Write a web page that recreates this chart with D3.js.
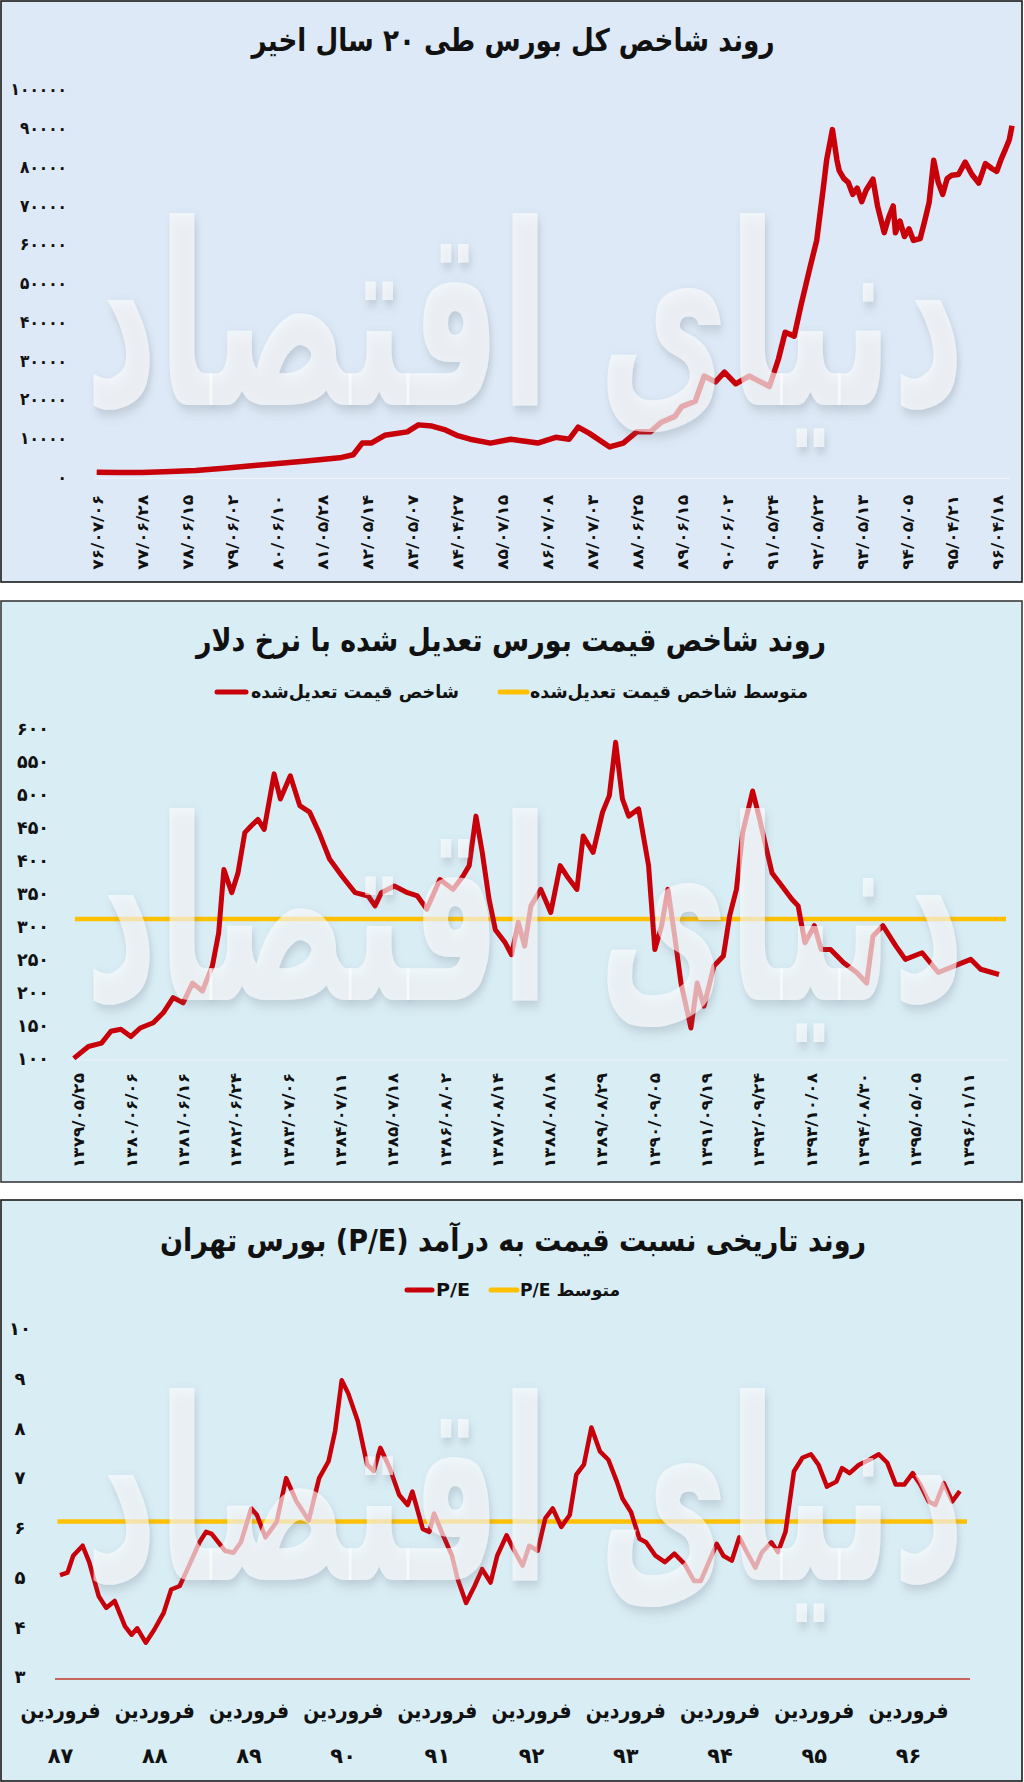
<!DOCTYPE html>
<html><head><meta charset="utf-8">
<script src="https://cdn.jsdelivr.net/npm/d3@7/dist/d3.min.js"></script>
<style>
body{margin:0;background:#fff}
svg{display:block}
text{font-family:"DejaVu Sans",sans-serif;font-weight:bold;fill:#111}
</style>
</head><body>
<svg id="c" width="1024" height="1782"></svg>
<script>
// ---------------- DATA ----------------
// Panel 1: total index (year position 76..96, value)
const indexTitle = "روند شاخص کل بورس طی ۲۰ سال اخیر";
const indexDates = ["۷۶/۰۷/۰۶","۷۷/۰۶/۲۸","۷۸/۰۶/۱۵","۷۹/۰۶/۰۲","۸۰/۰۶/۱۰","۸۱/۰۵/۲۸","۸۲/۰۵/۱۴","۸۳/۰۵/۰۷","۸۴/۰۴/۲۷","۸۵/۰۷/۱۵","۸۶/۰۷/۰۸","۸۷/۰۷/۰۳","۸۸/۰۶/۲۵","۸۹/۰۶/۱۵","۹۰/۰۶/۰۲","۹۱/۰۵/۲۴","۹۲/۰۵/۲۲","۹۳/۰۵/۱۳","۹۴/۰۵/۰۵","۹۵/۰۴/۲۱","۹۶/۰۴/۱۸"];
const indexTicks = [0,10000,20000,30000,40000,50000,60000,70000,80000,90000,100000];
const indexX = [76.0,76.5,77.0,77.5,78.2,78.9,79.5,79.9,80.6,81.4,81.7,81.9,82.1,82.4,82.9,83.15,83.45,83.75,84.0,84.3,84.75,85.2,85.8,86.2,86.5,86.7,86.95,87.4,87.7,88.0,88.3,88.55,88.85,89.0,89.3,89.5,89.75,89.95,90.2,90.5,90.75,90.95,91.15,91.3,91.5,91.65,91.85,92.0,92.15,92.22,92.35,92.45,92.5,92.6,92.7,92.8,92.9,93.0,93.1,93.25,93.35,93.5,93.6,93.7,93.75,93.85,93.95,94.05,94.15,94.3,94.4,94.5,94.6,94.7,94.8,94.9,95.0,95.15,95.3,95.45,95.6,95.75,95.9,96.0,96.1,96.2,96.28,96.34];
const indexV = [1200,1100,1100,1300,1600,2300,2900,3300,4000,4900,5700,8700,8700,10700,11600,13400,13100,12100,10700,9700,8700,9700,8700,10200,9700,12800,11200,7700,8700,11600,11600,14100,15600,18100,19500,26000,24500,27000,24000,26000,24500,23300,30400,37300,36300,44200,54000,61000,74800,81700,89600,81700,79000,77000,76000,72900,74500,71000,74000,76800,70000,63000,67000,69900,63000,66000,62000,64000,61000,61500,66000,70900,81700,76000,72900,77000,77800,78000,81200,78000,75800,80800,79500,78800,82000,84700,87000,90600];

// Panel 2: price index adjusted by dollar rate (label position, value)
const adjTitle = "روند شاخص قیمت بورس تعدیل شده با نرخ دلار";
const adjLegend = ["شاخص قیمت تعدیل‌شده","متوسط شاخص قیمت تعدیل‌شده"];
const adjDates = ["۱۳۷۹/۰۵/۲۵","۱۳۸۰/۰۶/۰۶","۱۳۸۱/۰۶/۱۶","۱۳۸۲/۰۶/۲۴","۱۳۸۳/۰۷/۰۶","۱۳۸۴/۰۷/۱۱","۱۳۸۵/۰۷/۱۸","۱۳۸۶/۰۸/۰۲","۱۳۸۷/۰۸/۱۴","۱۳۸۸/۰۸/۱۸","۱۳۸۹/۰۸/۲۹","۱۳۹۰/۰۹/۰۵","۱۳۹۱/۰۹/۱۹","۱۳۹۲/۰۹/۲۴","۱۳۹۳/۱۰/۰۸","۱۳۹۴/۰۸/۳۰","۱۳۹۵/۰۵/۰۵","۱۳۹۶/۰۱/۱۱"];
const adjTicks = [100,150,200,250,300,350,400,450,500,550,600];
const adjX = [-0.09,0.19,0.44,0.62,0.81,1.0,1.18,1.43,1.62,1.81,2.0,2.18,2.37,2.56,2.68,2.78,2.93,3.05,3.18,3.3,3.43,3.55,3.74,3.86,4.05,4.23,4.42,4.6,4.8,5.04,5.29,5.54,5.67,5.79,6.04,6.29,6.48,6.66,6.91,7.16,7.35,7.47,7.6,7.72,7.85,7.97,8.16,8.28,8.41,8.53,8.65,8.84,9.03,9.21,9.34,9.53,9.65,9.84,10.02,10.15,10.27,10.4,10.52,10.71,10.9,11.02,11.15,11.27,11.4,11.52,11.71,11.83,11.96,12.15,12.33,12.45,12.58,12.7,12.89,13.01,13.14,13.26,13.45,13.64,13.76,13.89,14.07,14.2,14.38,14.63,14.88,15.07,15.19,15.38,15.63,15.81,16.13,16.44,16.75,17.06,17.25,17.6];
const adjV = [101,119,124,142,145,134,147,155,170,193,185,215,203,241,291,387,352,382,443,453,463,448,532,494,529,484,474,443,403,377,352,347,332,352,362,352,347,327,372,357,377,393,468,413,342,296,276,258,307,271,332,357,322,393,377,357,438,413,474,499,580,494,468,479,393,266,302,357,286,215,147,215,180,241,256,317,357,443,506,468,423,382,362,342,332,276,302,266,266,246,231,215,286,302,271,251,261,231,241,251,236,228];
const adjMean = 312;

// Panel 3: P/E ratio (year 87..96.55, value)
const peTitle = "روند تاریخی نسبت قیمت به درآمد (P/E) بورس تهران";
const peLegend = ["P/E","متوسط P/E"];
const peYears = [87,88,89,90,91,92,93,94,95,96];
const peYearLabels = ["۸۷","۸۸","۸۹","۹۰","۹۱","۹۲","۹۳","۹۴","۹۵","۹۶"];
const peMonth = "فروردین";
const peTicks = [3,4,5,6,7,8,9,10];
const peX = [87.0,87.08,87.14,87.24,87.31,87.41,87.49,87.58,87.69,87.76,87.82,87.91,88.0,88.1,88.18,88.27,88.37,88.48,88.55,88.61,88.75,88.84,88.92,89.03,89.09,89.18,89.3,89.4,89.51,89.64,89.75,89.85,89.92,89.99,90.06,90.16,90.26,90.33,90.4,90.5,90.6,90.69,90.74,90.85,90.92,90.97,91.05,91.16,91.22,91.31,91.4,91.48,91.57,91.64,91.74,91.81,91.91,91.98,92.07,92.15,92.23,92.32,92.41,92.48,92.56,92.64,92.73,92.82,92.91,92.97,93.06,93.15,93.22,93.32,93.42,93.52,93.63,93.73,93.8,93.87,93.97,94.04,94.13,94.21,94.29,94.38,94.45,94.55,94.62,94.7,94.79,94.88,94.97,95.05,95.14,95.24,95.3,95.38,95.48,95.59,95.69,95.78,95.87,95.96,96.05,96.13,96.22,96.29,96.38,96.47,96.55];
const peV = [5.05,5.1,5.44,5.64,5.31,4.63,4.39,4.53,4.02,3.85,3.98,3.69,3.95,4.29,4.76,4.83,5.24,5.71,5.92,5.88,5.54,5.5,5.71,6.39,6.26,5.81,6.12,7.0,6.53,6.15,7.0,7.34,7.95,8.97,8.7,8.15,7.27,7.14,7.61,7.2,6.66,6.46,6.73,5.98,5.92,6.29,5.92,5.44,4.97,4.49,4.83,5.17,4.9,5.44,5.85,5.58,5.24,5.64,5.54,6.19,6.39,6.02,6.26,7.07,7.27,8.02,7.54,7.37,6.93,6.59,6.32,5.78,5.71,5.44,5.31,5.48,5.27,4.93,4.93,5.24,5.68,5.44,5.34,5.81,5.51,5.2,5.51,5.71,5.51,5.92,7.14,7.41,7.48,7.27,6.83,6.93,7.2,7.1,7.27,7.37,7.48,7.31,6.87,6.87,7.1,6.87,6.53,6.46,6.9,6.53,6.74];
const peMean = 6.13;

const watermark = "دنیای اقتصاد";

// ---------------- DRAW ----------------
const fa = n => String(n).replace(/\d/g, d => "۰۱۲۳۴۵۶۷۸۹"[d]);
const svg = d3.select("#c");
const RED = "#c8000a", YEL = "#ffc000";

const defs = svg.append("defs");
const f = defs.append("filter").attr("id","sh").attr("x","-10%").attr("y","-10%").attr("width","120%").attr("height","120%");
f.append("feDropShadow").attr("dx",2).attr("dy",3).attr("stdDeviation",3).attr("flood-color","#6a7480").attr("flood-opacity",0.45);

function panel(y0, y1, fill, stroke) {
  svg.append("rect").attr("x",1).attr("y",y0).attr("width",1021).attr("height",y1-y0)
    .attr("fill",fill).attr("stroke",stroke).attr("stroke-width",1.6);
}
function title(txt, cx, y, len) {
  svg.append("text").attr("x",cx).attr("y",y).attr("text-anchor","middle")
    .attr("direction","rtl").attr("font-size",31).attr("textLength",len)
    .attr("lengthAdjust","spacingAndGlyphs").text(txt);
}
function wmark(yBase) {
  const t = svg.append("text").attr("x",0).attr("y",0).attr("text-anchor","middle")
    .attr("font-size",100).attr("direction","rtl")
    .style("fill","#ffffff").style("fill-opacity",0.6).attr("filter","url(#sh)")
    .text(watermark);
  const w = t.node().getComputedTextLength();
  const fs = 100 * 880 / w;
  t.attr("font-size", fs);
  const sy = Math.min(2.2, 190 / (0.75 * fs));
  t.attr("transform", `translate(525,${yBase}) scale(1,${sy})`);
}
function legendItem(x0, x1, y, color, txt, tcx, tlen, fs) {
  svg.append("line").attr("x1",x0).attr("x2",x1).attr("y1",y).attr("y2",y)
    .attr("stroke",color).attr("stroke-width",5).attr("stroke-linecap","round");
  svg.append("text").attr("x",tcx).attr("y",y+6).attr("text-anchor","middle").attr("direction","rtl")
    .attr("font-size",fs).attr("textLength",tlen).attr("lengthAdjust","spacingAndGlyphs").text(txt);
}
function cleanAxis(g){ g.select(".domain").remove(); g.selectAll(".tick line").remove(); }

// ===== Panel 1 =====
panel(1, 582, "#dde9f6", "#1a1a1a");
title(indexTitle, 513, 51, 523);
{
  const x = d3.scaleLinear().domain([76,96]).range([96.7,996.7]);
  const y = d3.scaleLinear().domain([0,100000]).range([476.8,89.3]);
  svg.append("line").attr("x1",x(75.95)).attr("x2",x(96.3)).attr("y1",y(0)+1.5).attr("y2",y(0)+1.5)
    .attr("stroke","#eef3fa").attr("stroke-width",1.2);
  const ya = svg.append("g").attr("transform","translate(67,0)")
    .call(d3.axisLeft(y).tickValues(indexTicks).tickSize(0).tickPadding(0).tickFormat(fa));
  cleanAxis(ya);
  ya.selectAll("text").attr("font-size",17).attr("text-anchor","end")
    .each(function(d){ const s=fa(d); d3.select(this).attr("textLength", s.length*9.4).attr("lengthAdjust","spacingAndGlyphs"); });
  const xa = svg.append("g").attr("transform",`translate(0,${y(0)})`)
    .call(d3.axisBottom(x).tickValues(d3.range(76,97)).tickSize(0).tickFormat((d,i)=>indexDates[i]));
  cleanAxis(xa);
  xa.selectAll("text").attr("transform","rotate(-90)").attr("x",-18).attr("y",0).attr("dy","0.36em")
    .attr("text-anchor","end").attr("font-size",15).attr("textLength",75).attr("lengthAdjust","spacingAndGlyphs");
  const pts = indexX.map((d,i)=>[d,indexV[i]]);
  svg.append("path").datum(pts).attr("fill","none").attr("stroke",RED).attr("stroke-width",5.5)
    .attr("stroke-linejoin","round").attr("d", d3.line().x(d=>x(d[0])).y(d=>y(d[1])));
  wmark(405);
}

// ===== Panel 2 =====
panel(601, 1182, "#d9edf5", "#3a3a3a");
title(adjTitle, 511, 651, 630);
legendItem(217, 246, 692, RED, adjLegend[0], 355, 208, 18);
legendItem(500, 527, 692, YEL, adjLegend[1], 669, 278, 18);
{
  const x = d3.scaleLinear().domain([0,17]).range([78.5,967.6]);
  const y = d3.scaleLinear().domain([100,600]).range([1059,729]);
  svg.append("line").attr("x1",70).attr("x2",1008).attr("y1",y(100)+1).attr("y2",y(100)+1)
    .attr("stroke","#eaf4f9").attr("stroke-width",1.2);
  const ya = svg.append("g").attr("transform","translate(49,0)")
    .call(d3.axisLeft(y).tickValues(adjTicks).tickSize(0).tickPadding(0).tickFormat(fa));
  cleanAxis(ya);
  ya.selectAll("text").attr("font-size",18).attr("text-anchor","end")
    .attr("textLength",32).attr("lengthAdjust","spacingAndGlyphs");
  const xa = svg.append("g").attr("transform",`translate(0,${y(100)})`)
    .call(d3.axisBottom(x).tickValues(d3.range(0,18)).tickSize(0).tickFormat((d,i)=>adjDates[i]));
  cleanAxis(xa);
  xa.selectAll("text").attr("transform","rotate(-90)").attr("x",-14).attr("y",0).attr("dy","0.36em")
    .attr("text-anchor","end").attr("font-size",15).attr("textLength",95).attr("lengthAdjust","spacingAndGlyphs");
  svg.append("line").attr("x1",75).attr("x2",1006).attr("y1",y(adjMean)).attr("y2",y(adjMean))
    .attr("stroke",YEL).attr("stroke-width",4.5);
  const pts = adjX.map((d,i)=>[d,adjV[i]]);
  svg.append("path").datum(pts).attr("fill","none").attr("stroke",RED).attr("stroke-width",5)
    .attr("stroke-linejoin","round").attr("d", d3.line().x(d=>x(d[0])).y(d=>y(d[1])));
  wmark(1000);
}

// ===== Panel 3 =====
panel(1200, 1781, "#d9edf5", "#1a1a1a");
title(peTitle, 513, 1251, 706);
legendItem(407, 432, 1290, RED, peLegend[0], 453, 34, 17);
legendItem(491, 517, 1290, YEL, peLegend[1], 570, 100, 17);
{
  const x = d3.scaleLinear().domain([87,96]).range([60,908]);
  const y = d3.scaleLinear().domain([3,10]).range([1677,1329]);
  svg.append("line").attr("x1",55).attr("x2",970).attr("y1",1679).attr("y2",1679)
    .attr("stroke","#c0392b").attr("stroke-width",1.3);
  const ya = svg.append("g").attr("transform","translate(20,0)")
    .call(d3.axisLeft(y).tickValues(peTicks).tickSize(0).tickPadding(0).tickFormat(fa));
  cleanAxis(ya);
  ya.selectAll("text").attr("font-size",18).attr("text-anchor","middle");
  const xa = svg.append("g").attr("transform","translate(0,1700)")
    .call(d3.axisBottom(x).tickValues(peYears).tickSize(0).tickFormat(()=>peMonth));
  cleanAxis(xa);
  xa.selectAll("text").attr("y",18).attr("dy",0).attr("font-size",22).attr("direction","rtl")
    .attr("textLength",80).attr("lengthAdjust","spacingAndGlyphs");
  xa.selectAll(".tick").append("text").attr("y",63).attr("text-anchor","middle")
    .attr("font-size",21).attr("fill","#111").text((d,i)=>peYearLabels[i]);
  svg.append("line").attr("x1",57.5).attr("x2",967).attr("y1",y(peMean)).attr("y2",y(peMean))
    .attr("stroke",YEL).attr("stroke-width",4.5);
  const pts = peX.map((d,i)=>[d,peV[i]]);
  svg.append("path").datum(pts).attr("fill","none").attr("stroke",RED).attr("stroke-width",4.5)
    .attr("stroke-linejoin","round").attr("d", d3.line().x(d=>x(d[0])).y(d=>y(d[1])));
  wmark(1580);
}
</script>
</body></html>
